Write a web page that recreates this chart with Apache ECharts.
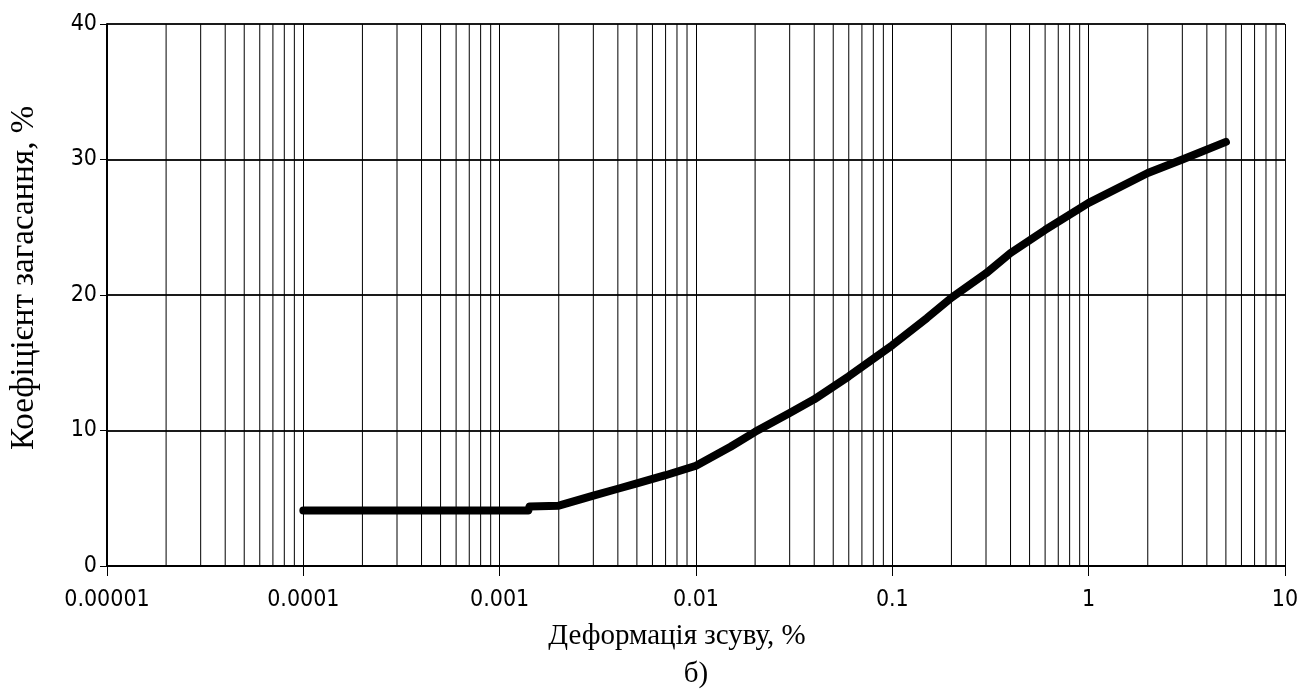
<!DOCTYPE html>
<html>
<head>
<meta charset="utf-8">
<script src="https://cdn.jsdelivr.net/npm/echarts@6/dist/echarts.min.js"></script>
<style>
html,body{margin:0;padding:0;background:#fff;}
#chart{width:1316px;height:698px;}
</style>
</head>
<body>
<div id="chart"></div>
<script>
// Shear strain, % (log scale)
const strainValues = [0.0001, 0.0014, 0.00142, 0.002, 0.003, 0.004, 0.005, 0.007, 0.01, 0.015, 0.02, 0.03, 0.04, 0.06, 0.1, 0.15, 0.2, 0.3, 0.4, 0.6, 1, 2, 3, 5];
// Damping ratio, %
const dampingValues = [4.1, 4.1, 4.4, 4.45, 5.2, 5.7, 6.1, 6.7, 7.4, 8.8, 9.9, 11.3, 12.3, 14.0, 16.3, 18.3, 19.8, 21.6, 23.1, 24.8, 26.8, 29.0, 30.0, 31.3];
const xTickLabels = ['0.00001', '0.0001', '0.001', '0.01', '0.1', '1', '10'];
const yTickLabels = ['0', '10', '20', '30', '40'];
const xTitle = 'Деформація зсуву, %';
const subCaption = 'б)';
const yTitle = 'Коефіцієнт загасання, %';

// minor vertical grid positions (2..9 within each decade)
const minorX = [];
for (let e = -5; e < 1; e++) {
  for (let m = 2; m <= 9; m++) minorX.push(+(m * Math.pow(10, e)).toPrecision(3));
}
const minorLineData = [];
minorX.forEach(v => { minorLineData.push([v, 0], [v, 40], [v, null]); });

const labelFont = '"Liberation Sans Narrow", "DejaVu Sans Condensed", "Arial Narrow", sans-serif';
const serif = '"Liberation Serif", "Times New Roman", serif';

const chart = echarts.init(document.getElementById('chart'), null, {renderer: 'canvas'});
chart.setOption({
  animation: false,
  backgroundColor: '#fff',
  grid: {left: 107, right: 31, top: 24, bottom: 132, containLabel: false, outerBoundsMode: 'none'},
  xAxis: {
    type: 'log',
    logBase: 10,
    min: 0.00001,
    max: 10,
    name: '{t|' + xTitle + '}\n{b|' + subCaption + '}',
    nameLocation: 'middle',
    nameGap: 50,
    nameTextStyle: {
      color: '#000',
      rich: {
        t: {fontFamily: serif, fontSize: 29, color: '#000', lineHeight: 40, padding: [0, 38, 0, 0]},
        b: {fontFamily: serif, fontSize: 29, color: '#000', lineHeight: 36}
      }
    },
    axisLine: {show: true, lineStyle: {color: '#000', width: 2}},
    axisTick: {show: true, length: 10, inside: false, lineStyle: {color: '#000', width: 1}},
    axisLabel: {
      color: '#000', fontFamily: labelFont, fontSize: 23, margin: 23,
      formatter: function (v) {
        const i = Math.round(Math.log10(v)) + 5;
        return xTickLabels[i] !== undefined ? xTickLabels[i] : '';
      }
    },
    splitLine: {show: true, lineStyle: {color: '#000', width: 1}},
    minorTick: {show: false},
    minorSplitLine: {show: false}
  },
  yAxis: {
    type: 'value',
    min: 0,
    max: 40,
    interval: 10,
    name: yTitle,
    nameLocation: 'middle',
    nameGap: 66,
    nameRotate: 90,
    nameTextStyle: {fontFamily: serif, fontSize: 33, color: '#000', padding: [0, 0, 0, 34]},
    axisLine: {show: true, lineStyle: {color: '#000', width: 2}},
    axisTick: {show: true, length: 7, lineStyle: {color: '#000', width: 1}},
    axisLabel: {
      color: '#000', fontFamily: labelFont, fontSize: 23, margin: 10,
      formatter: function (v) { return yTickLabels[Math.round(v / 10)]; }
    },
    splitLine: {show: true, lineStyle: {color: '#1a1a1a', width: 2}}
  },
  series: [
    {
      type: 'line',
      data: minorLineData,
      silent: true,
      showSymbol: false,
      symbol: 'none',
      connectNulls: false,
      lineStyle: {color: '#000', width: 1},
      z: 1
    },
    {
      type: 'line',
      data: strainValues.map((x, i) => [x, dampingValues[i]]),
      showSymbol: false,
      symbol: 'none',
      smooth: false,
      lineStyle: {color: '#000', width: 8, cap: 'round', join: 'round'},
      z: 5
    }
  ]
});
</script>
</body>
</html>
